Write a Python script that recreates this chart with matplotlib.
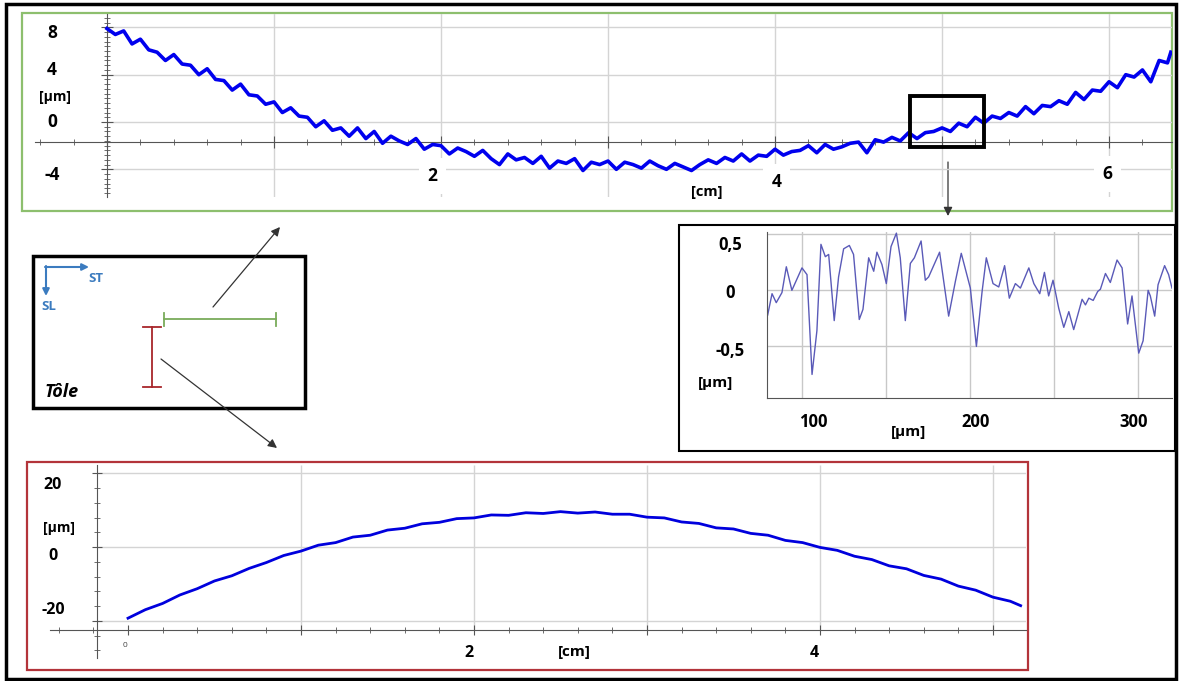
import matplotlib
matplotlib.use("Agg")
import matplotlib.pyplot as plt
from matplotlib.patches import Rectangle
from matplotlib.ticker import MultipleLocator

plt.rcParams['font.family'] = ['Open Sans', 'DejaVu Sans']

# top profile (ST direction), x in cm, y in um
top_x = [0.00, 0.05, 0.10, 0.15, 0.20, 0.25, 0.30, 0.35, 0.40, 0.45,
         0.50, 0.55, 0.60, 0.65, 0.70, 0.75, 0.80, 0.85, 0.90, 0.95,
         1.00, 1.05, 1.10, 1.15, 1.20, 1.25, 1.30, 1.35, 1.40, 1.45,
         1.50, 1.55, 1.60, 1.65, 1.70, 1.75, 1.80, 1.85, 1.90, 1.95,
         2.00, 2.05, 2.10, 2.15, 2.20, 2.25, 2.30, 2.35, 2.40, 2.45,
         2.50, 2.55, 2.60, 2.65, 2.70, 2.75, 2.80, 2.85, 2.90, 2.95,
         3.00, 3.05, 3.10, 3.15, 3.20, 3.25, 3.30, 3.35, 3.40, 3.45,
         3.50, 3.55, 3.60, 3.65, 3.70, 3.75, 3.80, 3.85, 3.90, 3.95,
         4.00, 4.05, 4.10, 4.15, 4.20, 4.25, 4.30, 4.35, 4.40, 4.45,
         4.50, 4.55, 4.60, 4.65, 4.70, 4.75, 4.80, 4.85, 4.90, 4.95,
         5.00, 5.05, 5.10, 5.15, 5.20, 5.25, 5.30, 5.35, 5.40, 5.45,
         5.50, 5.55, 5.60, 5.65, 5.70, 5.75, 5.80, 5.85, 5.90, 5.95,
         6.00, 6.05, 6.10, 6.15, 6.20, 6.25, 6.30, 6.35, 6.37]
top_y = [7.9, 7.4, 7.7, 6.6, 7.0, 6.1, 5.9, 5.2, 5.7, 4.9,
         4.8, 4.0, 4.5, 3.6, 3.5, 2.7, 3.2, 2.3, 2.2, 1.5,
         1.7, 0.8, 1.2, 0.5, 0.4, -0.4, 0.1, -0.7, -0.5, -1.2,
         -0.5, -1.4, -0.8, -1.8, -1.2, -1.6, -1.9, -1.4, -2.3, -1.9,
         -2.0, -2.7, -2.2, -2.5, -2.9, -2.4, -3.1, -3.6, -2.7, -3.2,
         -3.0, -3.5, -2.9, -3.9, -3.3, -3.5, -3.1, -4.1, -3.4, -3.6,
         -3.3, -4.0, -3.4, -3.6, -3.9, -3.3, -3.7, -4.0, -3.5, -3.8,
         -4.1, -3.6, -3.2, -3.5, -3.0, -3.3, -2.7, -3.3, -2.8, -2.9,
         -2.3, -2.8, -2.5, -2.4, -2.0, -2.6, -1.9, -2.3, -2.1, -1.8,
         -1.7, -2.6, -1.5, -1.7, -1.3, -1.6, -0.9, -1.4, -0.9, -0.8,
         -0.5, -0.8, -0.1, -0.4, 0.4, -0.1, 0.5, 0.3, 0.8, 0.5,
         1.3, 0.7, 1.4, 1.3, 1.8, 1.5, 2.5, 1.9, 2.7, 2.6,
         3.4, 2.9, 4.0, 3.8, 4.4, 3.4, 5.2, 5.0, 5.9]
top_ylabels = ['8', '4', '0', '-4']
top_xlabels = ['2', '4', '6']

# zoomed roughness profile, x and y in um
ins_x = [79.4, 82.0, 84.5, 87.9, 90.5, 93.8, 99.8, 102.8, 105.8, 108.7,
         111.1, 113.7, 115.7, 119.0, 121.6, 124.6, 128.0, 130.5, 133.9, 136.1,
         139.5, 142.5, 144.4, 147.4, 150.0, 152.8, 156.0, 158.3, 161.3, 164.3,
         166.7, 170.7, 173.2, 175.2, 181.7, 187.1, 191.1, 194.6, 200.0, 203.6,
         207.0, 209.5, 213.5, 216.9, 220.4, 223.2, 226.8, 229.8, 234.8, 237.8,
         241.3, 244.1, 246.6, 249.2, 252.6, 255.6, 258.6, 261.5, 266.5, 268.5,
         270.5, 273.1, 275.8, 277.4, 280.4, 283.3, 287.3, 290.3, 293.6, 296.2,
         300.2, 302.8, 305.8, 307.1, 309.7, 311.7, 315.6, 318.0, 320.0]
ins_y = [-0.22, -0.03, -0.11, -0.02, 0.21, 0.0, 0.20, 0.14, -0.75, -0.36,
         0.41, 0.30, 0.32, -0.27, 0.12, 0.37, 0.40, 0.32, -0.26, -0.17,
         0.29, 0.17, 0.34, 0.23, 0.06, 0.39, 0.51, 0.29, -0.27, 0.24,
         0.29, 0.44, 0.09, 0.12, 0.34, -0.23, 0.08, 0.33, 0.02, -0.50,
         -0.01, 0.29, 0.06, 0.03, 0.22, -0.07, 0.06, 0.02, 0.20, 0.06,
         -0.03, 0.16, -0.05, 0.09, -0.16, -0.33, -0.19, -0.35, -0.08, -0.13,
         -0.07, -0.09, -0.01, 0.01, 0.15, 0.07, 0.27, 0.20, -0.30, -0.05,
         -0.56, -0.45, 0.0, -0.05, -0.23, 0.05, 0.22, 0.14, 0.02]
ins_ylabels = ['0,5', '0', '-0,5']
ins_xlabels = ['100', '200', '300']

# bottom profile (SL direction), x in cm, y in um
bot_x = [0.0, 0.1, 0.2, 0.3, 0.4, 0.5, 0.6, 0.7, 0.8, 0.9,
         1.0, 1.1, 1.2, 1.3, 1.4, 1.5, 1.6, 1.7, 1.8, 1.9,
         2.0, 2.1, 2.2, 2.3, 2.4, 2.5, 2.6, 2.7, 2.8, 2.9,
         3.0, 3.1, 3.2, 3.3, 3.4, 3.5, 3.6, 3.7, 3.8, 3.9,
         4.0, 4.1, 4.2, 4.3, 4.4, 4.5, 4.6, 4.7, 4.8, 4.9,
         5.0, 5.1, 5.16]
bot_y = [-19.3, -17.0, -15.3, -13.0, -11.3, -9.2, -7.8, -5.8, -4.2, -2.3,
         -1.1, 0.5, 1.2, 2.7, 3.2, 4.6, 5.1, 6.3, 6.7, 7.7,
         7.9, 8.7, 8.6, 9.3, 9.1, 9.6, 9.2, 9.5, 8.9, 8.9,
         8.1, 7.9, 6.8, 6.4, 5.2, 4.9, 3.7, 3.2, 1.8, 1.2,
         -0.1, -0.9, -2.5, -3.4, -5.1, -5.9, -7.7, -8.7, -10.6, -11.7,
         -13.6, -14.7, -15.9]
bot_ylabels = ['20', '0', '-20']
bot_xlabels = ['2', '4']

W, H = 1179, 681
fig = plt.figure(figsize=(W / 100, H / 100), dpi=100)


def px_axes(x0, y0, x1, y1, z=1):
    ax = fig.add_axes([x0 / W, 1 - y1 / H, (x1 - x0) / W, (y1 - y0) / H])
    ax.set_zorder(z)
    ax.patch.set_alpha(0)
    return ax


# background layer: frames, sketch of the sheet, arrows
bg = fig.add_axes([0, 0, 1, 1])
bg.set_zorder(0)
bg.set_xlim(0, W)
bg.set_ylim(H, 0)
bg.axis('off')

bg.add_patch(Rectangle((6, 4), 1170, 675, fill=False, ec='black', lw=2.5))
bg.add_patch(Rectangle((22, 13), 1150, 198, fill=False, ec='#8dbf6e', lw=1.6))
bg.add_patch(Rectangle((27, 462), 1001, 208, fill=False, ec='#b3343a', lw=1.6))
bg.add_patch(Rectangle((679, 225), 496, 226, fill=False, ec='black', lw=1.5))
bg.add_patch(Rectangle((33, 256), 272, 152, fill=False, ec='black', lw=2.5))

blue = '#3b7bbf'
bg.annotate('', xy=(89, 267), xytext=(45, 267),
            arrowprops=dict(arrowstyle='-|>', color=blue, lw=1.5, mutation_scale=10,
                            shrinkA=0, shrinkB=0))
bg.annotate('', xy=(46, 296), xytext=(46, 266),
            arrowprops=dict(arrowstyle='-|>', color=blue, lw=1.5, mutation_scale=10,
                            shrinkA=0, shrinkB=0))
bg.text(96, 278, 'ST', color=blue, fontsize=9.5, fontweight='bold', ha='center', va='center')
bg.text(49, 306, 'SL', color=blue, fontsize=9.5, fontweight='bold', ha='center', va='center')

green = '#7aab5a'
bg.plot([164, 276], [319, 319], color=green, lw=1.3)
bg.plot([164, 164], [313, 326], color=green, lw=1.3)
bg.plot([276, 276], [313, 326], color=green, lw=1.3)
red = '#a8262b'
bg.plot([152, 152], [327, 387], color=red, lw=1.3)
bg.plot([143, 161], [327, 327], color=red, lw=1.3)
bg.plot([143, 161], [387, 387], color=red, lw=1.3)
bg.text(45, 392, 'Tôle', fontsize=13, fontweight='bold', style='italic',
        ha='left', va='center')

arrow_kw = dict(arrowstyle='-|>', color='#333333', lw=0.9, mutation_scale=13,
                shrinkA=0, shrinkB=0)
bg.annotate('', xy=(280, 227), xytext=(213, 307), arrowprops=arrow_kw)
bg.annotate('', xy=(277, 448), xytext=(161, 359), arrowprops=arrow_kw)
bg.annotate('', xy=(948, 216), xytext=(948, 162), arrowprops=arrow_kw)

grid_c = '#d4d4d4'
axis_c = '#555555'
lab_kw = dict(fontweight='bold', ha='center', va='center')
wbox = dict(boxstyle='square,pad=0.5', fc='white', ec='none')

# ---------- top chart ----------
ax1 = px_axes(35, 14, 1172, 197)
ax1.set_xlim(-0.431, 6.377)
ax1.set_ylim(-6.34, 9.13)
for s in ['top', 'right']:
    ax1.spines[s].set_visible(False)
ax1.spines['left'].set_position(('data', 0))
ax1.spines['bottom'].set_position(('data', -1.7))
for s in ['left', 'bottom']:
    ax1.spines[s].set_color(axis_c)
ax1.xaxis.set_major_locator(MultipleLocator(1))
ax1.xaxis.set_minor_locator(MultipleLocator(0.2))
ax1.yaxis.set_major_locator(MultipleLocator(4))
ax1.yaxis.set_minor_locator(MultipleLocator(0.4))
ax1.tick_params(which='major', direction='inout', length=8, color=axis_c,
                labelbottom=False, labelleft=False)
ax1.tick_params(which='minor', direction='inout', length=4, color=axis_c)
for v in [8, 4, 0, -4]:
    ax1.hlines(v, 0, 6.377, color=grid_c, lw=1, zorder=0)
for v in range(1, 7):
    ax1.axvline(v, color=grid_c, lw=1, zorder=0)
ax1.plot(top_x, top_y, color='#0000ee', lw=2.6, zorder=3)
ax1.add_patch(Rectangle((4.81, -2.1), 0.44, 4.3, fill=False, ec='black', lw=2.8, zorder=4))

for lab, yv in zip(top_ylabels, [7.5, 4.4, 0.0, -4.5]):
    ax1.text(-0.33, yv, lab, fontsize=12.5, **lab_kw)
ax1.text(-0.31, 2.1, '[µm]', fontsize=10, **lab_kw)
for lab, xv, yv in zip(top_xlabels, [1.95, 4.01, 5.99], [-4.56, -5.07, -4.4]):
    ax1.text(xv, yv, lab, fontsize=12.5, bbox=wbox, zorder=5, **lab_kw)
ax1.text(3.59, -5.92, '[cm]', fontsize=10.5, bbox=wbox, zorder=5, **lab_kw)

# ---------- inset (zoomed window) ----------
ax2 = px_axes(767, 232, 1172, 398)
ax2.set_xlim(79, 320)
ax2.set_ylim(-0.96, 0.52)
for s in ['top', 'right']:
    ax2.spines[s].set_visible(False)
for s in ['left', 'bottom']:
    ax2.spines[s].set_color(axis_c)
ax2.set_xticks([100, 150, 200, 250, 300])
ax2.set_yticks([-0.5, 0, 0.5])
ax2.tick_params(length=0, labelbottom=False, labelleft=False)
ax2.grid(True, color='#c8c8c8', lw=1)
ax2.set_axisbelow(True)
ax2.plot(ins_x, ins_y, color='#5a5ab8', lw=1.0)

for lab, yv in zip(ins_ylabels, [0.4, -0.02, -0.54]):
    ax2.text(-0.09, yv, lab, fontsize=12, transform=ax2.get_yaxis_transform(), **lab_kw)
ax2.text(-0.128, -0.83, '[µm]', fontsize=11, transform=ax2.get_yaxis_transform(), **lab_kw)
for lab, xv in zip(ins_xlabels, [106.5, 203, 297]):
    ax2.text(xv, -0.145, lab, fontsize=12, transform=ax2.get_xaxis_transform(), **lab_kw)
ax2.text(163, -0.205, '[µm]', fontsize=11, transform=ax2.get_xaxis_transform(), **lab_kw)

# ---------- bottom chart ----------
ax3 = px_axes(50, 465, 1026, 658)
ax3.set_xlim(-0.451, 5.191)
ax3.set_ylim(-30.1, 22.25)
for s in ['top', 'right']:
    ax3.spines[s].set_visible(False)
ax3.spines['left'].set_position(('data', -0.18))
ax3.spines['bottom'].set_position(('data', -22.5))
for s in ['left', 'bottom']:
    ax3.spines[s].set_color(axis_c)
ax3.xaxis.set_major_locator(MultipleLocator(1))
ax3.xaxis.set_minor_locator(MultipleLocator(0.2))
ax3.yaxis.set_major_locator(MultipleLocator(20))
ax3.yaxis.set_minor_locator(MultipleLocator(4))
ax3.tick_params(which='major', direction='inout', length=7, color=axis_c,
                labelbottom=False, labelleft=False)
ax3.tick_params(which='minor', direction='inout', length=4, color=axis_c)
for v in [20, 0, -20]:
    ax3.hlines(v, -0.18, 5.191, color=grid_c, lw=1, zorder=0)
for v in range(1, 6):
    ax3.vlines(v, -22.5, 22.25, color=grid_c, lw=1, zorder=0)
ax3.plot(bot_x, bot_y, color='#0000dd', lw=2.0, zorder=3)

for lab, yv in zip(bot_ylabels, [16.8, -2.4, -17.1]):
    ax3.text(0.003, yv, lab, fontsize=11.5, transform=ax3.get_yaxis_transform(), **lab_kw)
ax3.text(0.009, 5.2, '[µm]', fontsize=10, transform=ax3.get_yaxis_transform(), **lab_kw)
ax3.text(-0.017, -26.6, '0', fontsize=6, color='#444444', ha='center', va='center')
for lab, xv in zip(bot_xlabels, [1.97, 3.97]):
    ax3.text(xv, -28.8, lab, fontsize=11.5, **lab_kw)
ax3.text(2.58, -28.5, '[cm]', fontsize=11, **lab_kw)

fig.savefig('out.png', dpi=100)
